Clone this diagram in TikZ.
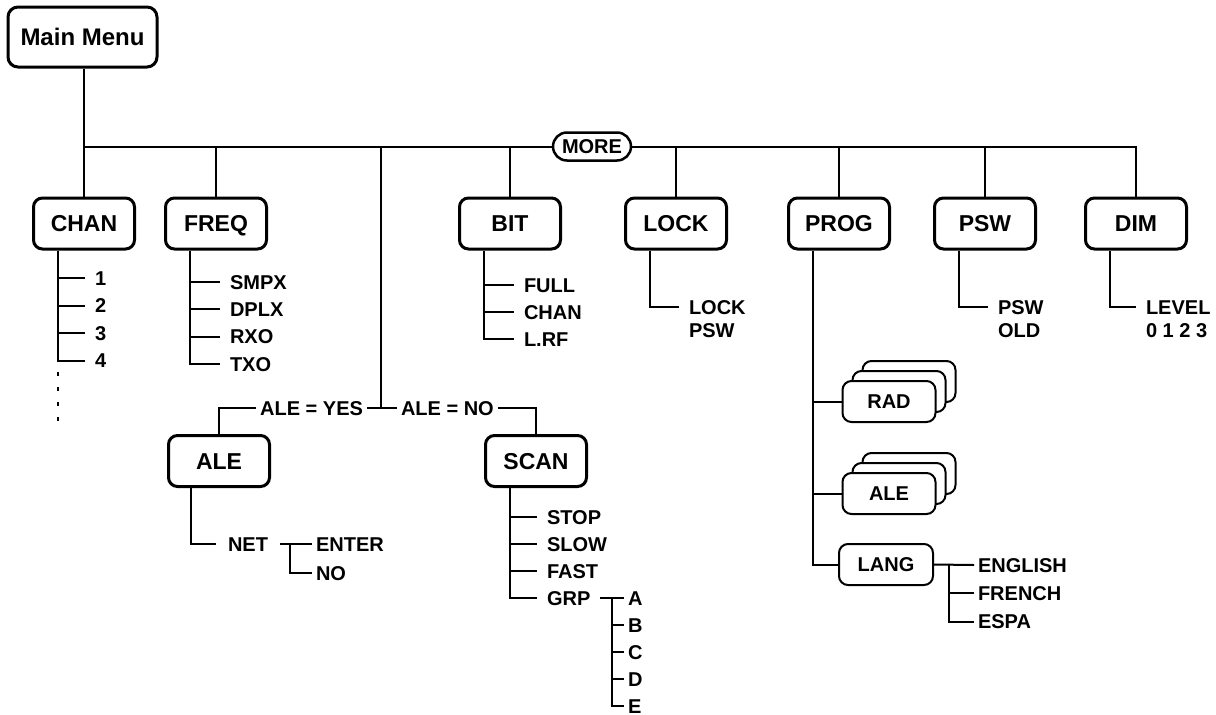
\documentclass[tikz,border=0pt]{standalone}
\usepackage{fontspec}
\setmainfont{Liberation Sans}
\usetikzlibrary{positioning,calc}

\begin{document}
\begin{tikzpicture}[x=1pt,y=1pt,line width=2pt,
  menu/.style={draw,line width=3pt,rounded corners=9pt,minimum width=101pt,minimum height=51pt,inner sep=0pt,
    text height=16.5pt,text depth=0pt,font=\fontsize{23}{23}\selectfont\bfseries},
  sub/.style={draw,fill=white,line width=2pt,rounded corners=9pt,minimum width=93pt,minimum height=41pt,inner sep=0pt,
    text height=14.5pt,text depth=0pt,font=\fontsize{20}{20}\selectfont\bfseries},
  entry/.style={anchor=west,inner xsep=9pt,inner ysep=0pt,text height=14.3pt,text depth=0pt,
    font=\fontsize{20}{20}\selectfont\bfseries},
  tagtext/.style={entry,inner xsep=3pt}]
\useasboundingbox (0,0) rectangle (1216,-715);

\node[menu,minimum width=149pt,minimum height=60pt,rounded corners=10pt,text height=17.5pt,
  font=\fontsize{24}{24}\selectfont\bfseries] (main) at (82.5,-37) {Main Menu};
\node[draw,fill=white,line width=2.5pt,rounded corners=14pt,minimum width=78pt,minimum height=28pt,inner sep=0pt,
  text height=14.3pt,text depth=0pt,font=\fontsize{20}{20}\selectfont\bfseries] (more) at (592,-146.5) {MORE};

\foreach \n/\t/\x in {chan/CHAN/84,freq/FREQ/216,bit/BIT/510,lock/LOCK/676,prog/PROG/839,psw/PSW/985,dim/DIM/1136}
  \node[menu] (\n) at (\x,-223.5) {\t};

\draw (main.south -| chan.north) -- (chan.north);
\draw (chan.north |- more.west) -- (more.west);
\draw (more.east) -| (dim.north);
\foreach \n in {freq,bit,lock,prog,psw}
  \draw (\n.north) -- (\n.north |- more.west);

\foreach \n in {chan,freq,bit,lock,prog,psw,dim}
  \coordinate (\n l) at ([xshift=26pt]\n.south west);

\foreach \t [count=\i] in {1,2,3,4} {
  \node[entry] (chan\i) at (85,-250.4-27.6*\i) {\t};
  \draw (chanl) |- (chan\i.west);
}
\draw[line width=2.5pt,dash pattern=on 4pt off 11pt] ([yshift=-11pt]chanl |- chan4.west) -- ++(0,-52);

\foreach \t [count=\i] in {SMPX,DPLX,RXO,TXO} {
  \node[entry] (freq\i) at (220,-254.7-27.3*\i) {\t};
  \draw (freql) |- (freq\i.west);
}

\foreach \t [count=\i] in {FULL,CHAN,L.RF} {
  \node[entry] (bit\i) at (514,-258-27*\i) {\t};
  \draw (bitl) |- (bit\i.west);
}

\node[entry] (lock1) at (679,-307) {LOCK};
\node[entry] (lock2) at (679,-330) {PSW};
\draw (lockl) |- (lock1.west);
\node[entry] (psw1) at (988,-307) {PSW};
\node[entry] (psw2) at (988,-330) {OLD};
\draw (pswl) |- (psw1.west);
\node[entry] (dim1) at (1136,-307) {LEVEL};
\node[entry] (dim2) at (1136,-330) {0 1 2 3};
\draw (diml) |- (dim1.west);

\coordinate (alej) at (381,-408);
\draw (alej |- more.west) -- (alej);
\node[tagtext,anchor=east] (aleyes) at (367,-408) {ALE = YES};
\node[tagtext] (aleno) at (397,-408) {ALE = NO};
\draw (aleyes.east) -- (aleno.west);
\node[menu] (ale) at (219,-461) {ALE};
\node[menu] (scan) at (536,-461) {SCAN};
\draw (aleyes.west) -| (ale.north);
\draw (aleno.east) -- ++(4,0) -| (scan.north);

\coordinate (alel) at ([xshift=24pt]ale.south west);
\node[entry,inner xsep=11pt] (net) at (216,-544) {NET};
\draw (alel) |- (net.west);
\coordinate (netl) at ([xshift=10pt]net.east);
\node[tagtext] (enter) at (312,-544) {ENTER};
\node[tagtext] (no) at (312,-573) {NO};
\draw (net.east) -- (enter.west);
\draw (netl) |- (no.west);

\coordinate (scanl) at ([xshift=26pt]scan.south west);
\foreach \t [count=\i] in {STOP,SLOW,FAST,GRP} {
  \node[entry] (scan\i) at (537,-490-27*\i) {\t};
  \draw (scanl) |- (scan\i.west);
}
\coordinate (grpl) at ([xshift=12pt]scan4.east);
\draw (scan4.east) -- (grpl);
\foreach \t [count=\i] in {A,B,C,D,E} {
  \node[tagtext] (grp\i) at (624,-571-27*\i) {\t};
  \draw (grpl) |- (grp\i.west);
}

\foreach \d/\k in {20/2,10/1} {
  \node[sub] (rad\k) at (889+\d,-401.5+\d) {};
  \node[sub] (alep\k) at (889+\d,-493.5+\d) {};
}
\node[sub] (rad) at (889,-401.5) {RAD};
\node[sub] (alep) at (889,-493.5) {ALE};
\node[sub,minimum width=94pt] (lang) at (886,-564.5) {LANG};
\draw (progl) |- (lang.west);
\draw (progl |- rad.west) -- (rad.west);
\draw (progl |- alep.west) -- (alep.west);

\coordinate (langl) at ([xshift=15pt]lang.east);
\node[tagtext] (english) at (974,-565) {ENGLISH};
\node[tagtext] (french) at (974,-593) {FRENCH};
\node[tagtext] (espa) at (974,-621.5) {ESPA};
\draw (lang.east) -- (english.west);
\draw (langl) |- (french.west);
\draw (langl) |- (espa.west);
\end{tikzpicture}
\end{document}
